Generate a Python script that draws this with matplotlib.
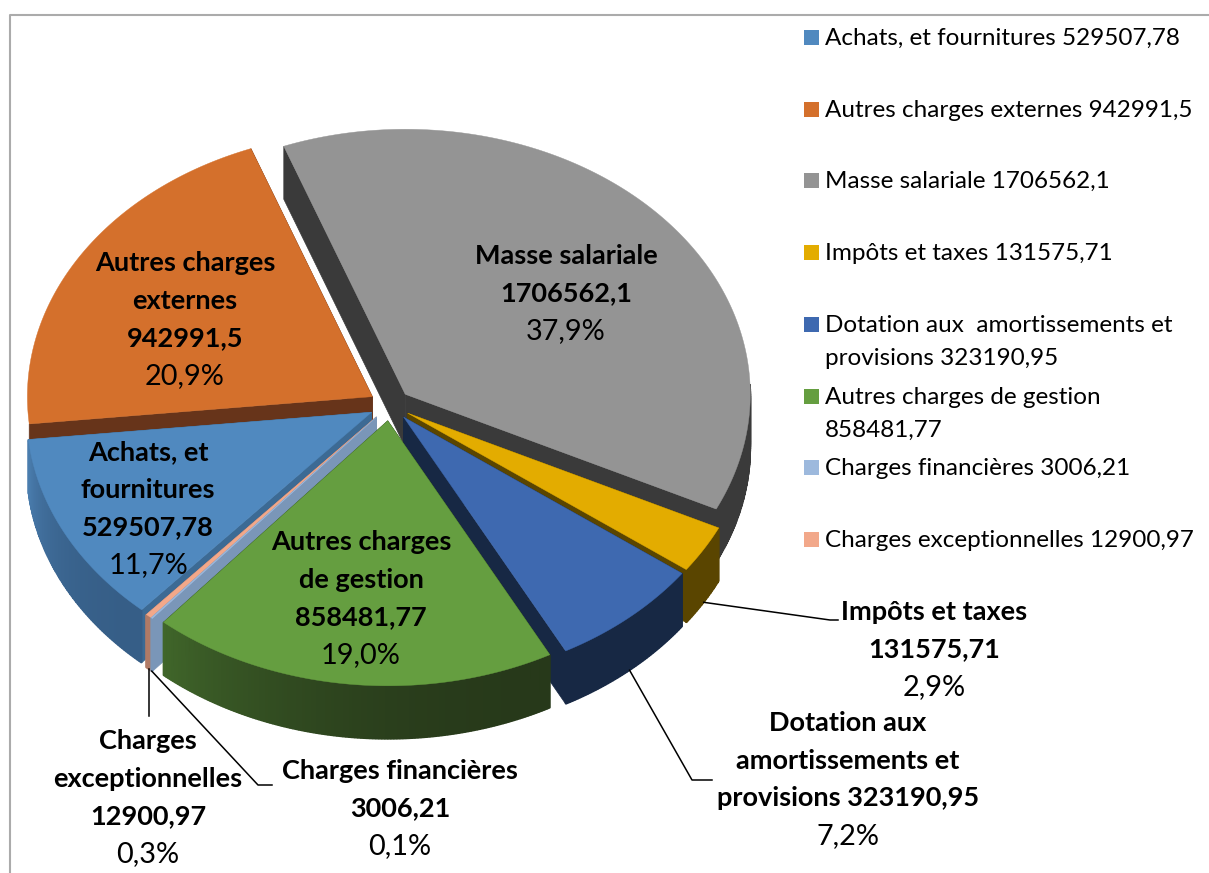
import numpy as np
import matplotlib
matplotlib.use("Agg")
import matplotlib.pyplot as plt
from matplotlib.patches import Rectangle

# data
categories = ["Achats, et fournitures", "Autres charges externes", "Masse salariale", "Impôts et taxes",
              "Dotation aux  amortissements et provisions", "Autres charges de gestion",
              "Charges financières", "Charges exceptionnelles"]
values = [529507.78, 942991.5, 1706562.1, 131575.71, 323190.95, 858481.77, 3006.21, 12900.97]

# how the names break on the slices / in the legend
label_lines = [["Achats, et", "fournitures"], ["Autres charges", "externes"], ["Masse salariale"],
               ["Impôts et taxes"], ["Dotation aux", "amortissements et", "provisions"],
               ["Autres charges", "de gestion"], ["Charges financières"], ["Charges", "exceptionnelles"]]
legend_lines = [["Achats, et fournitures"], ["Autres charges externes"], ["Masse salariale"], ["Impôts et taxes"],
                ["Dotation aux  amortissements et", "provisions"], ["Autres charges de gestion", ""],
                ["Charges financières"], ["Charges exceptionnelles"]]

top_colors = ["#5089BF", "#D4702C", "#949494", "#E3AC00", "#3E69B0", "#659E40", "#9DB9DD", "#F2A88A"]
cut_colors = ["#3C6A94", "#67341A", "#3A3A3A", "#5A4500", "#172844", "#233A18", "#7A96B8", "#B07A66"]
wall_from = ["#365E87", "#67341A", "#3A3A3A", "#5A4500", "#172844", "#27391A", "#7A96B8", "#B07A66"]
wall_to = ["#4A7DAE", "#67341A", "#3A3A3A", "#5A4500", "#172844", "#40662A", "#7A96B8", "#B07A66"]
legend_colors = top_colors

# pie geometry in pixels
cx, cy = 390, 405
rx, ry = 345, 265
depth = 53
explode = 0.06
start_angle = 221.8
draw_order = [2, 1, 3, 0, 4, 7, 6, 5]
no_wall = [1]  # its outer side is hidden behind Achats

# text positions (baselines)
label_x = [148, 185, 566, 934, 848, 361, 400, 148]
label_y = [460, 271, 264, 620, 731, 550, 779, 749]
label_pitch = 37.6
legend_x = 825
legend_y = [37, 109, 180, 252, 324, 396, 467, 539]
legend_pitch = 33

total = sum(values)
sweeps = [v / total * 360 for v in values]
starts = [start_angle + sum(sweeps[:i]) for i in range(len(values))]


def fmt(v):
    return repr(v).replace(".", ",")


def pt(ax0, ay0, ang, r=1.0, dz=0):
    a = np.radians(ang)
    return ax0 + rx * r * np.sin(a), ay0 - ry * r * np.cos(a) + dz


def apex(i):
    mid = starts[i] + sweeps[i] / 2
    return pt(cx, cy, mid, explode)


fig = plt.figure(figsize=(12.09, 8.73), dpi=100)
ax = fig.add_axes([0, 0, 1, 1])
ax.set_xlim(0, 1209)
ax.set_ylim(873, 0)
ax.axis("off")

# chart border, left and top only
ax.plot([10, 10, 1209], [873, 15, 15], color="#ABABAB", lw=1.5, zorder=0)

for i in draw_order:
    ax0, ay0 = apex(i)
    a0, a1 = starts[i], starts[i] + sweeps[i]
    # radial cut faces
    for ang in [a0, a1]:
        px, py = pt(ax0, ay0, ang)
        ax.fill([ax0, px, px, ax0], [ay0, py, py + depth, ay0 + depth],
                color=cut_colors[i], lw=0.5)
    # outer wall, only the part facing us
    angs = np.arange(a0, a1 + 0.5, 0.5)
    angs = np.append(angs[angs < a1], a1)
    c0 = np.array(matplotlib.colors.to_rgb(wall_from[i]))
    c1 = np.array(matplotlib.colors.to_rgb(wall_to[i]))
    for k in range(len(angs) - 1):
        if i in no_wall:
            continue
        if np.cos(np.radians(angs[k])) > 0.03 and np.cos(np.radians(angs[k + 1])) > 0.03:
            continue
        # shade runs with the position along the slice
        t = (k / max(len(angs) - 2, 1)) ** 2.2
        col = c0 + (c1 - c0) * t
        x1, y1 = pt(ax0, ay0, angs[k])
        x2, y2 = pt(ax0, ay0, angs[k + 1])
        ax.fill([x1, x2, x2, x1], [y1, y2, y2 + depth, y1 + depth], facecolor=col, edgecolor=col,
                lw=1.2, joinstyle="bevel")
    # top of the slice
    angs = np.linspace(a0, a1, 200)
    xs, ys = pt(ax0, ay0, angs)
    ax.fill(np.r_[ax0, xs], np.r_[ay0, ys], color=top_colors[i], lw=0.3)

# leader lines for the outside labels
leader_bends = {3: [(830, 620), (838, 620)], 4: [(692, 780), (712, 780)],
                6: [(258, 785), (272, 785)], 7: [(147, 716)]}
for i, bend in leader_bends.items():
    ax0, ay0 = apex(i)
    x0, y0 = pt(ax0, ay0, starts[i] + sweeps[i] / 2, 1.0, depth)
    if i == 7:
        bend = [(x0, 716)]
    xs = [x0] + [b[0] for b in bend]
    ys = [y0] + [b[1] for b in bend]
    ax.plot(xs, ys, color="black", lw=1.1, zorder=4)

# data labels
for i in range(len(values)):
    y = label_y[i]
    lines = list(label_lines[i])
    if i == 4:
        lines[-1] = lines[-1] + " " + fmt(values[i])
    else:
        lines.append(fmt(values[i]))
    for line in lines:
        ax.text(label_x[i], y, line, family="Lato", weight="bold", fontsize=19.5,
                ha="center", va="baseline", color="black", zorder=5)
        y += label_pitch
    pct = f"{values[i] / total * 100:.1f}%".replace(".", ",")
    ax.text(label_x[i], y, pct, family="Lato", fontsize=20.8, ha="center", va="baseline", color="black", zorder=5)

# legend
for i in range(len(values)):
    y = legend_y[i]
    ax.add_patch(Rectangle((804, y - 7.5), 15, 15, color=legend_colors[i], lw=0, zorder=5))
    lines = list(legend_lines[i])
    if lines[-1] == "":
        lines[-1] = fmt(values[i])
    else:
        lines[-1] = lines[-1] + " " + fmt(values[i])
    for line in lines:
        ax.text(legend_x, y + 8, line, family="Lato", fontsize=17.5, ha="left", va="baseline", color="black", zorder=5)
        y += legend_pitch

fig.savefig("out.png", dpi=100)
